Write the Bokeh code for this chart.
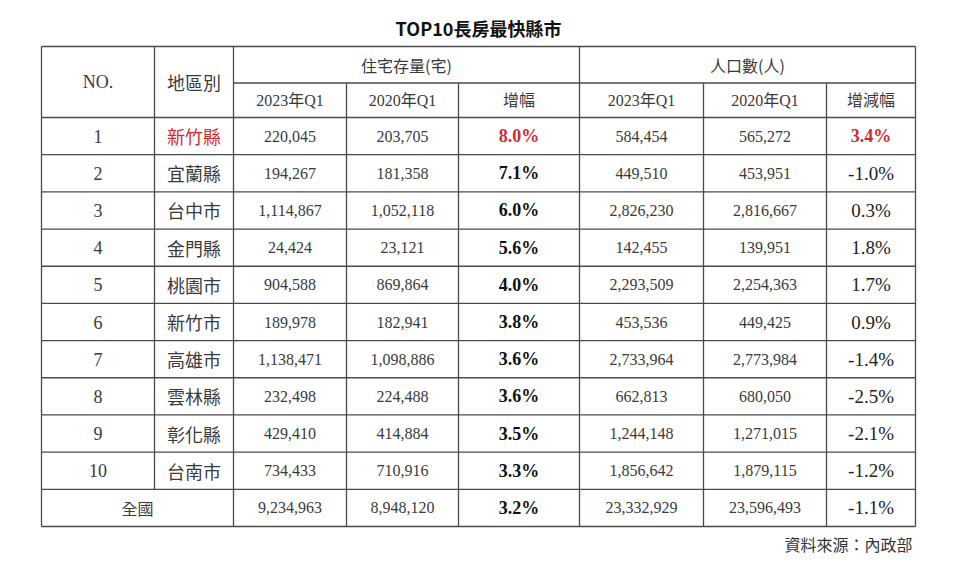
from bokeh.plotting import figure
from bokeh.models import Range1d, ColumnDataSource
from bokeh.core.properties import value
from bokeh.embed import file_html
from bokeh.resources import INLINE

# ---------------- data ----------------
title = "TOP10長房最快縣市"
source_note = "資料來源：內政部"
header_top = ["NO.", "地區別", "住宅存量(宅)", "人口數(人)"]
header_sub = ["2023年Q1", "2020年Q1", "增幅", "2023年Q1", "2020年Q1", "增減幅"]

rank = [1, 2, 3, 4, 5, 6, 7, 8, 9, 10]
region = ["新竹縣", "宜蘭縣", "台中市", "金門縣", "桃園市", "新竹市", "高雄市", "雲林縣", "彰化縣", "台南市"]
housing_2023 = [220045, 194267, 1114867, 24424, 904588, 189978, 1138471, 232498, 429410, 734433]
housing_2020 = [203705, 181358, 1052118, 23121, 869864, 182941, 1098886, 224488, 414884, 710916]
housing_growth = [8.0, 7.1, 6.0, 5.6, 4.0, 3.8, 3.6, 3.6, 3.5, 3.3]
pop_2023 = [584454, 449510, 2826230, 142455, 2293509, 453536, 2733964, 662813, 1244148, 1856642]
pop_2020 = [565272, 453951, 2816667, 139951, 2254363, 449425, 2773984, 680050, 1271015, 1879115]
pop_change = [3.4, -1.0, 0.3, 1.8, 1.7, 0.9, -1.4, -2.5, -2.1, -1.2]

national_label = "全國"
national_housing = [9234963, 8948120, 3.2]
national_pop = [23332929, 23596493, -1.1]

# ---------------- layout (page pixel coordinates) ----------------
col_x = [41, 154, 233, 346, 458, 579, 703, 826, 915]
y_top, y_mid, y_head = 46, 82.5, 117
y_bottom = 526
n_rows = len(rank) + 1
row_h = (y_bottom - y_head) / n_rows
row_y = [y_head + i * row_h for i in range(n_rows + 1)]

RED = "#d22b2f"
LINE = "#4a4a4a"
NUM = "#3a3a3a"
SERIF = "Liberation Serif, Noto Sans CJK TC"
CJK = "Noto Sans CJK TC"

p = figure(width=944, height=568, output_backend="svg", toolbar_location=None,
           x_range=Range1d(0, 944), y_range=Range1d(568, 0),
           min_border=0, background_fill_color="white", border_fill_color="white")
p.axis.visible = False
p.grid.visible = False
p.outline_line_color = None

# ---------------- grid lines ----------------
x0s, y0s, x1s, y1s = [], [], [], []
def seg(a, b, c, d):
    x0s.append(a); y0s.append(b); x1s.append(c); y1s.append(d)

seg(col_x[0], y_top, col_x[-1], y_top)
seg(col_x[2], y_mid, col_x[-1], y_mid)
for yy in row_y:
    seg(col_x[0], yy, col_x[-1], yy)
seg(col_x[0], y_top, col_x[0], y_bottom)
seg(col_x[-1], y_top, col_x[-1], y_bottom)
seg(col_x[1], y_top, col_x[1], row_y[-2])
seg(col_x[2], y_top, col_x[2], y_bottom)
seg(col_x[5], y_top, col_x[5], y_bottom)
for ci in (3, 4, 6, 7):
    seg(col_x[ci], y_mid, col_x[ci], y_bottom)
p.segment(x0=x0s, y0=y0s, x1=x1s, y1=y1s, line_color=LINE, line_width=1.3)

def cx(i):
    return (col_x[i] + col_x[i + 1]) / 2

def add_text(xs, ys, texts, size, font=SERIF, style="normal", colors=None, align="center"):
    if colors is None:
        colors = [NUM] * len(texts)
    src = ColumnDataSource(dict(x=xs, y=ys, t=texts, c=colors))
    p.text(x="x", y="y", text="t", source=src, text_color="c",
           text_font=value(font), text_font_size=size, text_font_style=style,
           text_align=align, text_baseline="middle")

# ---------------- title & note ----------------
add_text([(col_x[0] + col_x[-1]) / 2], [27], [title], "18px", font=CJK, style="bold", colors=["#111111"])
add_text([912], [543], [source_note], "16px", font=CJK, colors=["#333333"], align="right")

# ---------------- headers ----------------
yc_head = (y_top + y_head) / 2
add_text([cx(0)], [yc_head], [header_top[0]], "18px")
add_text([cx(1)], [yc_head], [header_top[1]], "18px", font=CJK)
add_text([(col_x[2] + col_x[5]) / 2, (col_x[5] + col_x[8]) / 2],
         [(y_top + y_mid) / 2] * 2, header_top[2:], "16px", font=CJK)
add_text([cx(i) for i in range(2, 8)], [(y_mid + y_head) / 2] * 6, header_sub, "16px")

# ---------------- body ----------------
n = len(rank)
ys = [(row_y[i] + row_y[i + 1]) / 2 for i in range(n)]
first_red = [RED] + [NUM] * (n - 1)
add_text([cx(0)] * n, ys, [str(r) for r in rank], "18px")
add_text([cx(1)] * n, ys, region, "18px", font=CJK, colors=first_red)

fmt = lambda v: f"{v:,}"
add_text([cx(2)] * n, ys, [fmt(v) for v in housing_2023], "16px")
add_text([cx(3)] * n, ys, [fmt(v) for v in housing_2020], "16px")
add_text([cx(4)] * n, ys, [f"{v:.1f}%" for v in housing_growth], "18px",
         style="bold", colors=[RED] + ["#111111"] * (n - 1))
add_text([cx(5)] * n, ys, [fmt(v) for v in pop_2023], "16px")
add_text([cx(6)] * n, ys, [fmt(v) for v in pop_2020], "16px")
# first population change highlighted (bold red), the rest regular
add_text([cx(7)], ys[:1], [f"{pop_change[0]:.1f}%"], "18px", style="bold", colors=[RED])
add_text([cx(7)] * (n - 1), ys[1:], [f"{v:.1f}%" for v in pop_change[1:]], "19px",
         colors=["#222222"] * (n - 1))

# national row
yn = (row_y[-2] + row_y[-1]) / 2
add_text([(col_x[0] + col_x[2]) / 2], [yn], [national_label], "16px", font=CJK)
add_text([cx(2), cx(3)], [yn, yn], [fmt(v) for v in national_housing[:2]], "16px")
add_text([cx(4)], [yn], [f"{national_housing[2]:.1f}%"], "18px", style="bold", colors=["#111111"])
add_text([cx(5), cx(6)], [yn, yn], [fmt(v) for v in national_pop[:2]], "16px")
add_text([cx(7)], [yn], [f"{national_pop[2]:.1f}%"], "19px", colors=["#222222"])

open("out.html", "w").write(file_html(p, INLINE))
